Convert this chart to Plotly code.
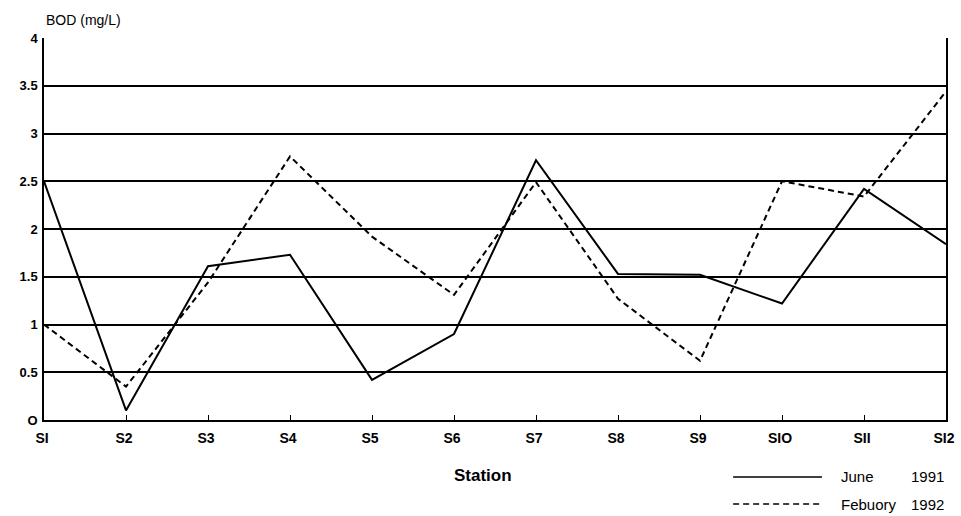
import plotly.graph_objects as go

stations = ["S1", "S2", "S3", "S4", "S5", "S6", "S7", "S8", "S9", "S10", "S11", "S12"]
tick_text = ["SI", "S2", "S3", "S4", "S5", "S6", "S7", "S8", "S9", "SIO", "SII", "SI2"]
june_1991 = [2.5, 0.1, 1.61, 1.73, 0.42, 0.9, 2.72, 1.53, 1.52, 1.22, 2.42, 1.84]
feb_1992 = [1.0, 0.35, 1.44, 2.76, 1.92, 1.31, 2.49, 1.27, 0.62, 2.5, 2.34, 3.44]
y_ticks = [0, 0.5, 1, 1.5, 2, 2.5, 3, 3.5, 4]
y_tick_text = ["O", "0.5", "1", "1.5", "2", "2.5", "3", "3.5", "4"]

FONT = "Liberation Sans"
xs = list(range(len(stations)))

fig = go.Figure()
fig.add_trace(go.Scatter(x=xs, y=june_1991, mode="lines", name="June 1991",
                         line=dict(color="black", width=2), showlegend=False))
fig.add_trace(go.Scatter(x=xs, y=feb_1992, mode="lines", name="Febuory 1992",
                         line=dict(color="black", width=2, dash="6px,4px"), showlegend=False))

fig.update_layout(
    width=961, height=516,
    margin=dict(l=44, r=15, t=38, b=96, autoexpand=False),
    paper_bgcolor="white", plot_bgcolor="white",
    font=dict(family=FONT, color="black", size=13),
    xaxis=dict(range=[0, len(stations) - 1], tickmode="array", tickvals=xs, ticktext=tick_text,
               showgrid=False, zeroline=False, showline=True, linecolor="black", linewidth=1.5,
               mirror=False, ticks="inside", ticklen=5, tickcolor="black", ticklabelstandoff=4,
               ticklabelshift=-2,
               tickfont=dict(family=FONT, size=14, color="black", weight="bold")),
    yaxis=dict(range=[0, 4], tickmode="array", tickvals=y_ticks, ticktext=y_tick_text,
               showgrid=True, gridcolor="black", gridwidth=1.5, zeroline=False,
               showline=True, linecolor="black", linewidth=1.5, mirror=True,
               ticks="", ticklabelstandoff=2,
               tickfont=dict(family=FONT, size=13, color="black", weight="bold")),
)

fig.add_annotation(text="BOD (mg/L)", xref="paper", yref="paper", x=0.0, y=1.0,
                   xanchor="left", yanchor="bottom", yshift=8, showarrow=False,
                   font=dict(family=FONT, size=14))
fig.add_annotation(text="<b>Station</b>", xref="paper", yref="paper", x=0.487, y=-0.145,
                   xanchor="center", yanchor="middle", showarrow=False,
                   font=dict(family=FONT, size=17))

# Manual legend (paper coords)
legend_items = [("June", "1991", "solid"), ("Febuory", "1992", "6px,4px")]
for i, (word, year, dash) in enumerate(legend_items):
    yy = -0.149 - i * 0.071
    fig.add_shape(type="line", xref="paper", yref="paper", x0=0.764, x1=0.8625, y0=yy, y1=yy,
                  line=dict(color="black", width=1.5, dash=dash))
    fig.add_annotation(text=word, xref="paper", yref="paper", x=0.881, y=yy,
                       xanchor="left", yanchor="middle", showarrow=False,
                       font=dict(family=FONT, size=15))
    fig.add_annotation(text=year, xref="paper", yref="paper", x=1.0, y=yy,
                       xanchor="right", yanchor="middle", showarrow=False,
                       font=dict(family=FONT, size=15))

fig.write_html("out.html", config={"displayModeBar": False},
               post_script="document.body.style.margin='0';document.body.style.overflow='hidden';")
